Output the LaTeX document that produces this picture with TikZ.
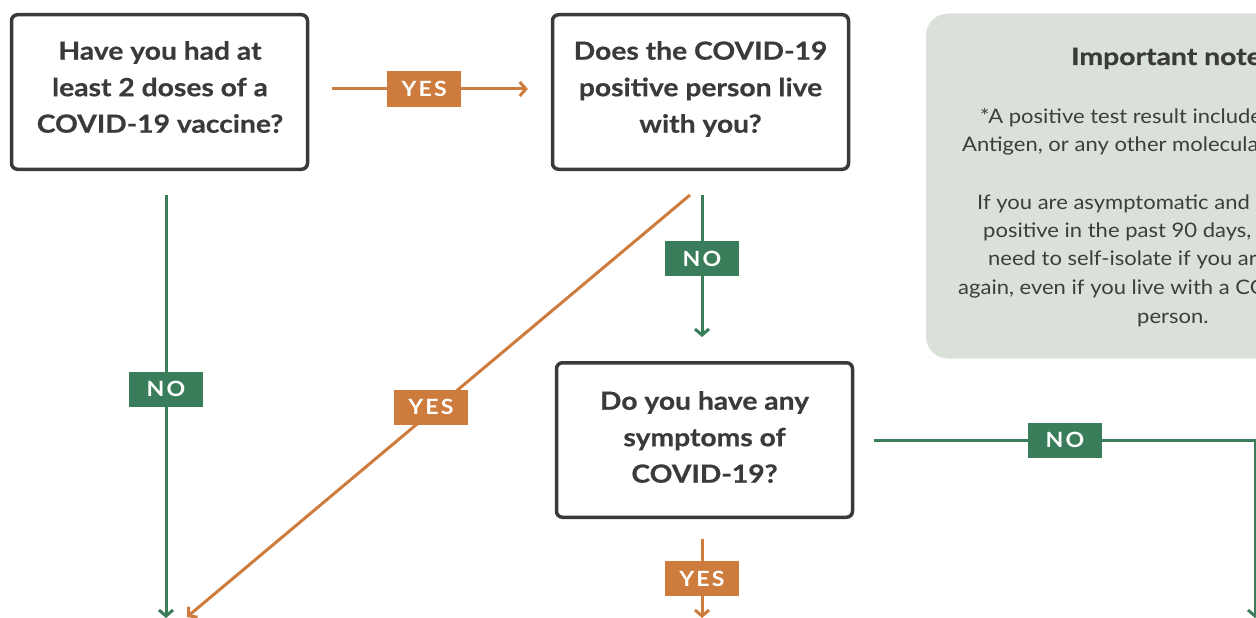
\documentclass[tikz,border=0pt]{standalone}
\usepackage{fontspec}
\setmainfont{Lato}
\usetikzlibrary{arrows.meta,calc}
\definecolor{grn}{RGB}{58,125,90}
\definecolor{org}{RGB}{205,124,61}
\definecolor{ink}{RGB}{58,59,57}
\definecolor{notefill}{RGB}{218,225,216}
\definecolor{notetext}{RGB}{60,62,58}
\newfontfamily\qfont[FakeStretch=1.13,FakeBold=0.6]{Lato Bold}
\newfontfamily\labfont[FakeStretch=1.1,LetterSpace=10]{Lato Bold}
\newfontfamily\bodyfont[FakeStretch=1.1]{Lato}
\newfontfamily\titlefont[FakeStretch=1.18,FakeBold=0.6]{Lato Bold}
\tikzset{
  qbox/.style={draw=ink, line width=3.5pt, rounded corners=6pt, minimum width=296pt, minimum height=154.5pt, inner sep=0pt},
  qtext/.style={align=center, text=ink, font=\qfont\fontsize{25}{36.5}\selectfont, inner sep=0pt},
  labbox/.style={fill=#1, text=white, minimum width=74pt, minimum height=35pt, inner sep=0pt, font=\labfont\fontsize{21}{21}\selectfont},
  gconn/.style={draw=grn, line width=3pt, -{Straight Barb[length=6pt,width=14pt,line width=3pt]}},
  oconn/.style={draw=org, line width=3pt, -{Straight Barb[length=6pt,width=14pt,line width=3pt]}},
  notebody/.style={anchor=base west, inner sep=0pt, text=notetext, font=\bodyfont\fontsize{20}{28}\selectfont},
}
\begin{document}
\begin{tikzpicture}[x=1pt,y=-1pt]
\useasboundingbox (0,0) rectangle (1256,618);
\begin{scope}
\clip (0,0) rectangle (1256,618);
% note box
\node[fill=notefill, rounded corners=22pt, minimum width=492pt, minimum height=345pt, inner sep=0pt] (note) at (1172,186) {};
\node[anchor=base west, inner sep=0pt, text=ink, font=\titlefont\fontsize{24}{24}\selectfont] (title) at (1071,65) {Important notes};
\node[notebody] (l1) at (980,123) {*A positive test result includes};
\node[notebody] (l2) at (962,151) {Antigen, or any other molecular};
\node[notebody] (l3) at (977,209) {If you are asymptomatic and};
\node[notebody] (l4) at (983,237) {positive in the past 90 days,};
\node[notebody] (l5) at (988,265) {need to self-isolate if you are};
\node[notebody] (l6) at (958,294) {again, even if you live with a COVID-19};
\node[notebody] (l7) at (1137,323) {person.};

% question boxes
\node[qbox] (b1) at (159.5,92) {};
\node[qtext] (t1) at (160,87) {Have you had at\\least 2 doses of a\\COVID-19 vaccine?};
\node[qbox] (b2) at (700.5,92) {};
\node[qtext] (t2) at (700.5,89) {Does the COVID-19\\positive person live\\with you?};
\node[qbox] (b3) at (704.5,440) {};
\node[qtext] (t3) at (704.5,437) {Do you have any\\symptoms of\\COVID-19?};

% free ends
\coordinate (e1) at (166,618);
\coordinate (e2) at (187,617);
\coordinate (c3) at (1255,440);
\coordinate (e3) at (1255,618);
\coordinate (e4) at (702,618);

% connectors
\draw[oconn] ($(b1.east)+(23,-3)$) -- node[labbox=org, pos=0.47]{YES} ($(b2.west)+(-23,-3)$);
\draw[gconn] ($(b1.south)+(6.5,24)$) -- node[labbox=grn, pos=0.459]{NO} (e1);
\draw[oconn] ($(b2.south)+(-10.5,24)$) -- node[labbox=org, pos=0.515, yshift=5pt]{YES} (e2);
\draw[gconn] ($(b2.south)+(1.5,24)$) -- node[labbox=grn, pos=0.447]{NO} ($(b2.south)+(1.5,166)$);
\draw[gconn] ($(b3.east)+(20,0)$) -- node[labbox=grn, pos=0.501]{NO} (c3) -- (e3);
\draw[oconn] ($(b3.south)+(-2.5,20)$) -- node[labbox=org, pos=0.5]{YES} (e4);
\end{scope}
\end{tikzpicture}
\end{document}
